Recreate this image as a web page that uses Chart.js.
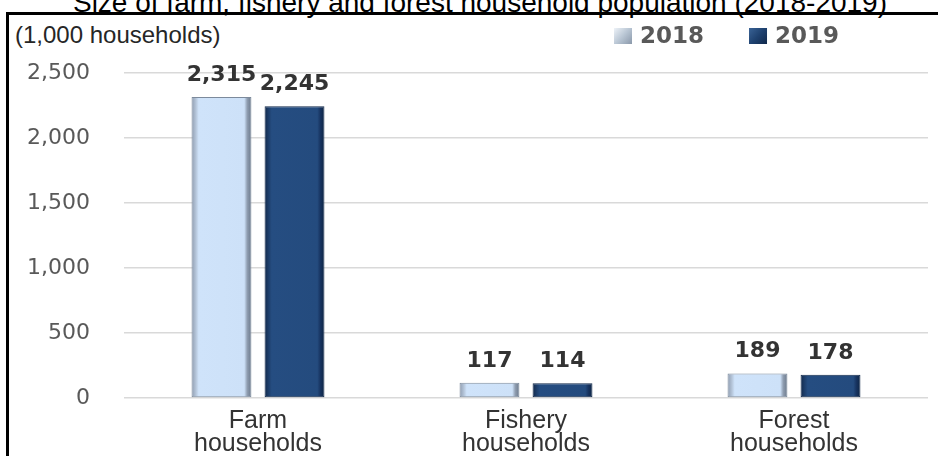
<!DOCTYPE html>
<html>
<head>
<meta charset="utf-8">
<script src="https://cdn.jsdelivr.net/npm/chart.js@4"></script>
<style>
  html, body { margin: 0; padding: 0; background: #fff; }
  #wrap { position: relative; width: 938px; height: 456px; overflow: hidden; }
  #title {
    position: absolute; left: 11px; top: -11px; width: 938px; text-align: center;
    font: 28px "Liberation Sans", Arial, sans-serif; line-height: 28px; color: #000;
    white-space: nowrap;
  }
  #frame {
    position: absolute; left: 6px; top: 12px; width: 1000px; height: 600px;
    border-top: 3px solid #000; border-left: 3px solid #000;
  }
  #unit {
    position: absolute; left: 15px; top: 23px;
    font: 24px "Liberation Sans", Arial, sans-serif; line-height: 24px; color: #262626; white-space: nowrap;
  }
  canvas { position: absolute; left: 0; top: 0; }
</style>
</head>
<body>
<div id="wrap">
  <div id="title">Size of farm, fishery and forest household population (2018-2019)</div>
  <div id="frame"></div>
  <div id="unit">(1,000 households)</div>
  <canvas id="chart" width="938" height="456"></canvas>
</div>
<script>
// data
const categories = [['Farm', 'households'], ['Fishery', 'households'], ['Forest', 'households']];
const seriesLabels = ['2018', '2019'];
const values2018 = [2315, 117, 189];
const values2019 = [2245, 114, 178];
const yTicks = [0, 500, 1000, 1500, 2000, 2500];

// bevel-like shading for each series
const shades = {
  '2018': { stops: [[0, '#8e9cb0'], [0.07, '#b3c3d7'], [0.12, '#cfe3fa'], [0.88, '#cde1f8'], [0.93, '#8f9db0'], [1, '#6a788a']],
            mid: '#cfe3fa', border: '#7c8a9c', icon: ['#eef3f8', '#b9c6d4', '#8a98aa'] },
  '2019': { stops: [[0, '#12294a'], [0.07, '#1e3f6c'], [0.12, '#254d81'], [0.88, '#244b7e'], [0.93, '#173461'], [1, '#0e2442']],
            mid: '#244b7e', border: '#10284a', icon: ['#3a6396', '#1f4270', '#10284a'] },
};

function barFill(c) {
  const s = shades[c.dataset.label];
  const el = c.element;
  if (!el || el.x === undefined || !el.width) return s.mid;
  const l = el.x - el.width / 2, r = el.x + el.width / 2;
  const g = c.chart.ctx.createLinearGradient(l, 0, r, 0);
  s.stops.forEach(([o, col]) => g.addColorStop(o, col));
  return g;
}

const valueLabels = {
  id: 'valueLabels',
  afterDatasetsDraw(chart) {
    const ctx = chart.ctx;
    ctx.save();
    ctx.font = 'bold 22px "DejaVu Sans", Verdana, sans-serif';
    ctx.fillStyle = '#333';
    ctx.textAlign = 'center';
    ctx.textBaseline = 'alphabetic';
    chart.data.datasets.forEach((ds, i) => {
      chart.getDatasetMeta(i).data.forEach((bar, j) => {
        ctx.fillText(ds.data[j].toLocaleString('en-US'), bar.x, bar.y - 16);
      });
    });
    ctx.restore();
  }
};

const legendPlugin = {
  id: 'sideLegend',
  afterDraw(chart) {
    const ctx = chart.ctx;
    ctx.save();
    ctx.font = 'bold 23px "DejaVu Sans", Verdana, sans-serif';
    ctx.textBaseline = 'middle';
    let x = 614;
    const y = 36;
    chart.data.datasets.forEach(ds => {
      const s = shades[ds.label];
      const g = ctx.createLinearGradient(x, y - 8, x + 18, y + 8);
      g.addColorStop(0, s.icon[0]);
      g.addColorStop(0.5, s.icon[1]);
      g.addColorStop(1, s.icon[2]);
      ctx.fillStyle = g;
      ctx.fillRect(x, y - 8, 18, 16);
      ctx.fillStyle = '#595959';
      ctx.fillText(ds.label, x + 26, y + 1);
      x += 26 + ctx.measureText(ds.label).width + 45;
    });
    ctx.restore();
  }
};

const chart = new Chart(document.getElementById('chart'), {
  type: 'bar',
  data: {
    labels: categories,
    datasets: [
      { label: seriesLabels[0], data: values2018, backgroundColor: barFill, borderColor: shades['2018'].border, borderWidth: 1, borderSkipped: false },
      { label: seriesLabels[1], data: values2019, backgroundColor: barFill, borderColor: shades['2019'].border, borderWidth: 1, borderSkipped: false },
    ]
  },
  options: {
    responsive: false,
    animation: false,
    layout: { padding: { top: 73, left: 24, right: 10, bottom: 0 } },
    datasets: { bar: { categoryPercentage: 0.545, barPercentage: 0.82 } },
    plugins: {
      legend: { display: false },
      title: { display: false },
      tooltip: { enabled: false }
    },
    scales: {
      x: {
        afterFit(scale) { scale.height = 58; },
        grid: { display: false, drawTicks: false },
        border: { display: false },
        ticks: {
          color: '#333',
          padding: 12,
          font: { family: '"Liberation Sans", Arial, sans-serif', size: 25, lineHeight: 0.92 },
          maxRotation: 0
        }
      },
      y: {
        min: 0, max: 2500,
        afterFit(scale) { scale.width = 100; },
        afterBuildTicks(scale) { scale.ticks = yTicks.map(v => ({ value: v })); },
        grid: { color: '#d9d9d9', lineWidth: 1.5, drawTicks: false },
        border: { display: false },
        ticks: {
          color: '#595959',
          padding: 34,
          font: { family: '"DejaVu Sans", Verdana, sans-serif', size: 22 },
          callback: v => v.toLocaleString('en-US')
        }
      }
    }
  },
  plugins: [valueLabels, legendPlugin]
});
// second pass so the gradients can use the laid-out bar geometry
chart.update('none');
</script>
</body>
</html>
